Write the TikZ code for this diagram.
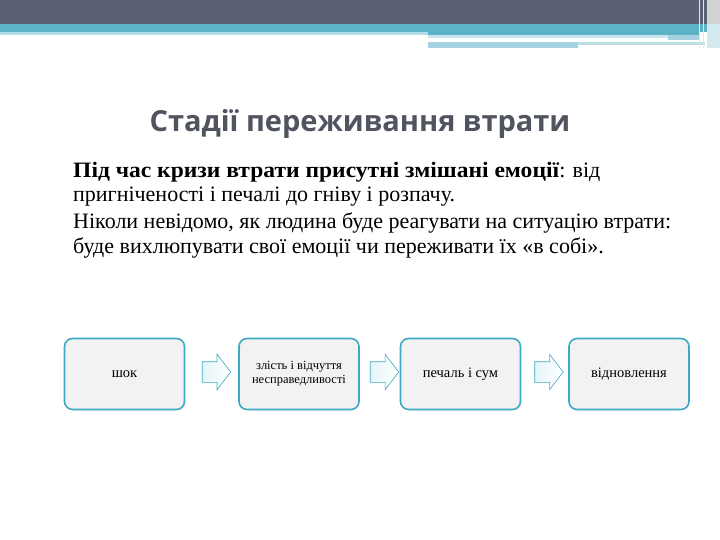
\documentclass[tikz,border=0pt]{standalone}
\usepackage{fontspec}
\setmainfont{Liberation Serif}[BoldFeatures={FakeStretch=1.07}]
\newfontfamily\titlefont{Open Sans}
\usetikzlibrary{shapes.arrows,positioning}
\definecolor{bannerslate}{HTML}{5A6174}
\definecolor{bannerteal}{HTML}{5DB2C8}
\definecolor{bannerlight}{HTML}{B4DCE6}
\definecolor{bannerpale}{HTML}{BCE0E2}
\definecolor{bannerblue}{HTML}{A6D1E0}
\definecolor{titlegrey}{HTML}{50545F}
\definecolor{stageborder}{HTML}{3EAAC2}
\definecolor{stagefill}{HTML}{F2F2F2}
\definecolor{arrowfill}{HTML}{E6F5F9}

\begin{document}
\begin{tikzpicture}[
  x=1pt, y=-1pt,
  stagebox/.style={
    draw=stageborder,
    fill=stagefill,
    rounded corners=8pt,
    line width=1.6pt,
    minimum width=120pt,
    minimum height=71pt,
    inner sep=2pt,
    align=center,
    font=\fontsize{14.5pt}{16pt}\selectfont
  },
  stagearrow/.style={
    single arrow,
    draw=stageborder,
    line width=0.6pt,
    left color=arrowfill,
    right color=white,
    minimum height=27pt,
    minimum width=35pt,
    inner sep=10pt,
    single arrow head extend=7.5pt,
    single arrow tip angle=105
  }
]
  \useasboundingbox (0,0) rectangle (720,540);

  % ---------------------------------------------------------------------------
  % HEADER BANNER
  % ---------------------------------------------------------------------------
  \fill[bannerslate] (0,0) rectangle (720,24);
  \fill[bannerteal] (0,24) rectangle (720,32);
  \fill[bannerteal] (428,32) rectangle (700,35);
  \fill[bannerlight] (0,32) rectangle (428,35);
  \fill[bannerblue!60] (428,35) rectangle (668,38);
  \fill[bannerblue] (668,35) rectangle (700,40);
  \fill[bannerblue] (428,42) rectangle (578,48);
  \fill[bannerpale] (578,42) rectangle (705,45);
  \fill[gray!35] (707,0) rectangle (720,24);
  \fill[bannerblue!50] (707,24) rectangle (720,48);
  \draw[white!80!gray, line width=0.8pt] (699,0) -- (699,48);
  \draw[white!80!gray, line width=0.8pt] (703,0) -- (703,48);

  % ---------------------------------------------------------------------------
  % TITLE AND BODY TEXT
  % ---------------------------------------------------------------------------
  \node[font=\titlefont\bfseries\fontsize{29pt}{33pt}\selectfont, text=titlegrey] (title) at (360,124) {Стадії переживання втрати};

  \node[anchor=north west, align=left, inner sep=0pt,
        font=\fontsize{22pt}{24.5pt}\selectfont] (intro) at (73,162) {%
    \textbf{Під час кризи втрати присутні змішані емоції}: від\\
    пригніченості і печалі до гніву і розпачу.\\[2.5pt]
    Ніколи невідомо, як людина буде реагувати на ситуацію втрати:\\
    буде вихлюпувати свої емоції чи переживати їх «в собі».
  };

  % ---------------------------------------------------------------------------
  % STAGES
  % ---------------------------------------------------------------------------
  \node[stagebox] (shock) at (124.5,374) {шок};
  \node[stagebox, font=\fontsize{12.5pt}{14pt}\selectfont] (anger) at (299,374) {злість і відчуття\\ несправедливості};
  \node[stagebox] (grief) at (460.5,374) {печаль і сум};
  \node[stagebox] (recovery) at (629,374) {відновлення};

  \node[stagearrow] (arrowA) at (212.5,372) {};
  \node[stagearrow] (arrowB) at (380.5,372) {};
  \node[stagearrow] (arrowC) at (545,372) {};

\end{tikzpicture}
\end{document}
